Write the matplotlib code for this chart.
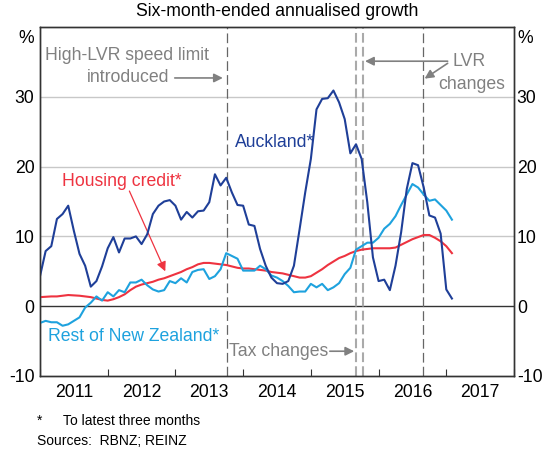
import numpy as np
import matplotlib
matplotlib.use("Agg")
import matplotlib.pyplot as plt

plt.rcParams['font.family'] = ['Liberation Sans', 'DejaVu Sans']

# monthly, Jan 2011 - Feb 2017
auckland = [4.3, 7.9, 8.6, 12.5, 13.2, 14.4, 10.8, 7.5, 5.8, 2.8, 3.6, 5.7,
            8.3, 9.9, 7.7, 9.7, 9.7, 10.0, 8.9, 10.3, 13.2, 14.4, 15.0, 15.2,
            14.4, 12.4, 13.5, 12.7, 13.6, 13.7, 14.9, 18.9, 17.3, 18.4, 16.3, 14.5,
            14.4, 11.7, 11.5, 8.2, 5.8, 4.1, 3.3, 3.2, 3.6, 5.8, 11.0, 16.3,
            21.1, 28.2, 29.7, 29.8, 30.9, 29.2, 26.8, 21.9, 23.2, 21.1, 14.9, 7.0,
            3.6, 3.8, 2.3, 5.8, 10.6, 16.8, 20.5, 20.2, 17.0, 13.0, 12.7, 10.4,
            2.4, 1.1]
rest_nz = [-2.4, -2.1, -2.3, -2.3, -2.8, -2.6, -2.1, -1.6, -0.2, 0.5, 1.4, 0.8,
           2.0, 1.4, 2.3, 2.0, 3.4, 3.4, 3.8, 3.0, 2.4, 2.1, 2.3, 3.6,
           3.3, 4.0, 3.4, 4.9, 5.2, 5.3, 3.9, 4.3, 5.3, 7.6, 7.2, 6.8,
           5.1, 5.1, 5.1, 5.8, 5.3, 4.4, 4.1, 3.6, 2.9, 2.0, 2.1, 2.1,
           3.2, 2.7, 3.2, 2.3, 2.7, 3.3, 4.6, 5.5, 8.1, 8.6, 9.1, 9.1,
           9.8, 11.1, 11.8, 12.9, 14.5, 16.0, 17.5, 17.0, 16.0, 15.1, 15.3, 14.5,
           13.7, 12.4]
housing_credit = [1.3, 1.35, 1.4, 1.4, 1.5, 1.6, 1.55, 1.5, 1.4, 1.3, 1.1, 0.9,
                  0.8, 1.0, 1.3, 1.7, 2.3, 2.8, 3.1, 3.3, 3.5, 3.8, 4.0, 4.3,
                  4.6, 4.9, 5.3, 5.6, 6.0, 6.2, 6.2, 6.1, 6.0, 5.9, 5.7, 5.5,
                  5.4, 5.4, 5.3, 5.2, 5.1, 4.9, 4.8, 4.7, 4.5, 4.3, 4.1, 4.1,
                  4.3, 4.8, 5.3, 5.9, 6.4, 6.9, 7.2, 7.6, 7.9, 8.1, 8.2, 8.3,
                  8.3, 8.3, 8.3, 8.4, 8.8, 9.2, 9.6, 9.9, 10.2, 10.2, 9.8, 9.3,
                  8.6, 7.6]
months = 2011 + np.arange(len(auckland)) / 12

# speed limit, tax changes, LVR changes, LVR changes
events = [2013.76, 2015.66, 2015.765, 2016.65]
event_colors = ['#666666', '#aaaaaa', '#aaaaaa', '#666666']

years = [2011, 2012, 2013, 2014, 2015, 2016, 2017]
yticks = [-10, 0, 10, 20, 30]

navy = '#1f3f98'
light = '#1ea2de'
red = '#ee3340'
grey = '#808080'

fig = plt.figure(figsize=(5.51, 4.54), dpi=100)
ax = fig.add_axes([40/551, 1-376/454, 474/551, 349/454])

ax.set_xlim(2011, 2018)
ax.set_ylim(-10, 40)

for y in [10, 20, 30]:
    ax.axhline(y, color='#c8c8c8', lw=1, zorder=1)
ax.axhline(0, color='#333333', lw=1, zorder=1)

for x, c in zip(events, event_colors):
    lw = 1.5 if c == '#aaaaaa' else 0.9
    ax.axvline(x, color=c, lw=lw, ls=(0, (7/lw, 3/lw)), zorder=2)

ax.plot(months, housing_credit, color=red, lw=1.5, zorder=3)
ax.plot(months, rest_nz, color=light, lw=1.5, zorder=3)
ax.plot(months, auckland, color=navy, lw=1.5, zorder=4)

ax.set_xticks(years + [2018])
ax.set_xticklabels([])
ax.set_xticks([y + 0.5 for y in years], minor=True)
ax.set_xticklabels([str(y) for y in years], minor=True, fontsize=12.7)
ax.tick_params(axis='x', which='major', direction='in', length=5, color='#333333')
ax.tick_params(axis='x', which='minor', length=0, pad=6)

ax.set_yticks(yticks)
ax.set_yticklabels([str(v) for v in yticks], fontsize=12.7)
ax.tick_params(axis='y', length=0, pad=4)
ax2 = ax.twinx()
ax2.set_ylim(-10, 40)
ax2.set_yticks(yticks)
ax2.set_yticklabels([str(v) for v in yticks], fontsize=12.7)
ax2.tick_params(axis='y', length=0, pad=2)
for a in (ax, ax2):
    for s in a.spines.values():
        s.set_color('#333333')
        s.set_linewidth(1)

ax.text(-0.012, 38.4, '%', transform=ax.get_yaxis_transform(), ha='right', va='center', fontsize=12.7)
ax.text(1.008, 38.4, '%', transform=ax.get_yaxis_transform(), ha='left', va='center', fontsize=12.7)

fs = 12.7
ax.text(2012.29, 35.85, 'High-LVR speed limit', color=grey, ha='center', va='center', fontsize=fs)
ax.text(2012.91, 32.7, 'introduced', color=grey, ha='right', va='center', fontsize=fs)
arrow = dict(arrowstyle='-|>', color=grey, lw=1.2, mutation_scale=13, shrinkA=0, shrinkB=0)
ax.annotate('', xy=(2013.70, 32.7), xytext=(2012.99, 32.7), arrowprops=arrow)

ax.text(2017.34, 35.0, 'LVR', color=grey, ha='center', va='center', fontsize=fs)
ax.text(2017.38, 31.8, 'changes', color=grey, ha='center', va='center', fontsize=fs)
ax.annotate('', xy=(2015.80, 35.1), xytext=(2017.02, 35.1), arrowprops=arrow)
ax.annotate('', xy=(2016.68, 32.6), xytext=(2017.02, 34.8), arrowprops=arrow)

ax.text(2014.52, -6.45, 'Tax changes', color=grey, ha='center', va='center', fontsize=fs)
ax.annotate('', xy=(2015.64, -6.45), xytext=(2015.28, -6.45), arrowprops=arrow)

ax.text(2014.46, 23.5, 'Auckland*', color=navy, ha='center', va='center', fontsize=fs)
ax.text(2012.39, -4.4, 'Rest of New Zealand*', color=light, ha='center', va='center', fontsize=fs)
ax.text(2012.21, 17.9, 'Housing credit*', color=red, ha='center', va='center', fontsize=fs)
ax.annotate('', xy=(2012.85, 5.0), xytext=(2012.32, 16.5),
            arrowprops=dict(arrowstyle='-|>', color=red, lw=0.9, mutation_scale=14, shrinkA=0, shrinkB=0))

fig.text(277/551, 1-12/454, 'Six-month-ended annualised growth', ha='center', va='center', fontsize=12.7)
fig.text(37/551, 1-421/454, '*', ha='left', va='center', fontsize=10)
fig.text(63/551, 1-421/454, 'To latest three months', ha='left', va='center', fontsize=10)
fig.text(37/551, 1-441/454, 'Sources:  RBNZ; REINZ', ha='left', va='center', fontsize=10)

fig.savefig('out.png', dpi=100)
